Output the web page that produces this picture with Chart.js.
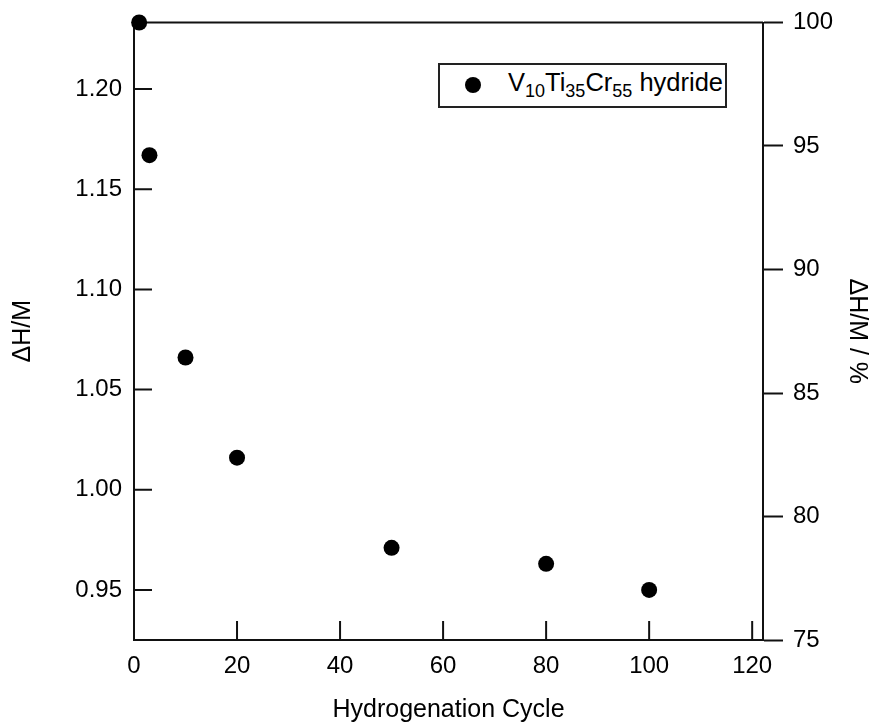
<!DOCTYPE html>
<html>
<head>
<meta charset="utf-8">
<script src="https://cdn.jsdelivr.net/npm/chart.js@4/dist/chart.umd.min.js"></script>
<style>
html, body { margin: 0; padding: 0; background: #fff; }
#wrap { position: relative; width: 872px; height: 726px; }
#legend {
  position: absolute; left: 438px; top: 63px; width: 289px; height: 45px;
  box-sizing: border-box; border: 2px solid #222; background: #fff;
  font-family: "Liberation Sans", Arial, sans-serif; color: #000;
}
#legend .mk {
  position: absolute; left: 25px; top: 12px; width: 16px; height: 16px;
  border-radius: 50%; background: #000;
}
#legend .tx {
  position: absolute; left: 68px; top: 5px; font-size: 25.5px; line-height: 25px; white-space: nowrap;
}
#legend .tx .s { font-size: 18px; vertical-align: -6px; line-height: 0; }
</style>
</head>
<body>
<div id="wrap">
  <canvas id="c" width="872" height="726"></canvas>
  <div id="legend"><span class="mk"></span><span class="tx">V<span class="s">10</span>Ti<span class="s">35</span>Cr<span class="s">55</span> hydride</span></div>
</div>
<script>
// ---- data ----
const cycles = [1, 3, 10, 20, 50, 80, 100];
const deltaHM = [1.2332, 1.167, 1.066, 1.016, 0.971, 0.963, 0.950];
const xTickValues = [0, 20, 40, 60, 80, 100, 120];
const leftTickValues = [0.95, 1.00, 1.05, 1.10, 1.15, 1.20];
const rightTickValues = [75, 80, 85, 90, 95, 100];
const xRange = [0, 122.1];
const leftRange = [0.925, 1.2332];
const rightRange = [75, 100];
const seriesLabel = 'V10Ti35Cr55 hydride';

const FONT = "'Liberation Sans', Arial, sans-serif";
const AXIS = '#111';

const inwardTicks = {
  id: 'inwardTicks',
  beforeDatasetsDraw(chart) {
    const { ctx, chartArea: a, scales } = chart;
    ctx.save();
    ctx.strokeStyle = AXIS;
    ctx.lineWidth = 2;
    ctx.beginPath();
    scales.y.ticks.forEach(t => {
      const py = scales.y.getPixelForValue(t.value);
      ctx.moveTo(a.left, py); ctx.lineTo(a.left + 18, py);
    });
    scales.x.ticks.forEach(t => {
      const px = scales.x.getPixelForValue(t.value);
      ctx.moveTo(px, a.bottom); ctx.lineTo(px, a.bottom - 19);
    });
    ctx.moveTo(a.left, a.top); ctx.lineTo(a.right, a.top);
    ctx.stroke();
    ctx.restore();
  }
};

const toTicks = arr => arr.map(v => ({ value: v }));

new Chart(document.getElementById('c'), {
  type: 'scatter',
  data: {
    datasets: [{
      label: seriesLabel,
      data: cycles.map((c, i) => ({ x: c, y: deltaHM[i] })),
      backgroundColor: '#000',
      borderColor: '#000',
      borderWidth: 0,
      pointRadius: 8,
      pointHoverRadius: 8,
      clip: false,
      xAxisID: 'x',
      yAxisID: 'y'
    }]
  },
  options: {
    responsive: false,
    animation: false,
    devicePixelRatio: 1,
    layout: { padding: { top: 22.5, left: 0, right: 0, bottom: 0 } },
    plugins: { legend: { display: false }, tooltip: { enabled: false } },
    scales: {
      x: {
        type: 'linear', position: 'bottom', min: xRange[0], max: xRange[1],
        afterBuildTicks: s => { s.ticks = toTicks(xTickValues); },
        afterFit: s => { s.height = 86; s.paddingLeft = 0; s.paddingRight = 0; },
        grid: { display: true, drawOnChartArea: false, drawTicks: false },
        border: { display: true, color: AXIS, width: 2 },
        ticks: { padding: 12, color: '#000', font: { family: FONT, size: 24 }, maxRotation: 0, autoSkip: false, callback: v => String(v) },
        title: { display: true, text: 'Hydrogenation Cycle', color: '#000', font: { family: FONT, size: 25 }, padding: { top: 0, bottom: 1 } }
      },
      y: {
        type: 'linear', position: 'left', min: leftRange[0], max: leftRange[1],
        afterBuildTicks: s => { s.ticks = toTicks(leftTickValues); },
        afterFit: s => { s.width = 134; s.paddingTop = 0; s.paddingBottom = 0; },
        grid: { display: true, drawOnChartArea: false, drawTicks: false },
        border: { display: true, color: AXIS, width: 2 },
        ticks: { padding: 12, color: '#000', font: { family: FONT, size: 24 }, autoSkip: false, callback: v => Number(v).toFixed(2) },
        title: { display: true, text: 'ΔH/M', color: '#000', font: { family: FONT, size: 25 }, padding: { top: 8, bottom: 0 } }
      },
      y2: {
        type: 'linear', position: 'right', min: rightRange[0], max: rightRange[1],
        afterBuildTicks: s => { s.ticks = toTicks(rightTickValues); },
        afterFit: s => { s.width = 109; s.paddingTop = 0; s.paddingBottom = 0; },
        grid: { display: true, drawOnChartArea: false, drawTicks: true, tickLength: 20, tickWidth: 2, tickColor: AXIS },
        border: { display: true, color: AXIS, width: 2 },
        ticks: { padding: 10, color: '#000', font: { family: FONT, size: 24 }, autoSkip: false, callback: v => String(v) },
        title: { display: true, text: 'ΔH/M / %', color: '#000', font: { family: FONT, size: 25 }, padding: { top: 0, bottom: 0 } }
      }
    }
  },
  plugins: [inwardTicks]
});
</script>
</body>
</html>
